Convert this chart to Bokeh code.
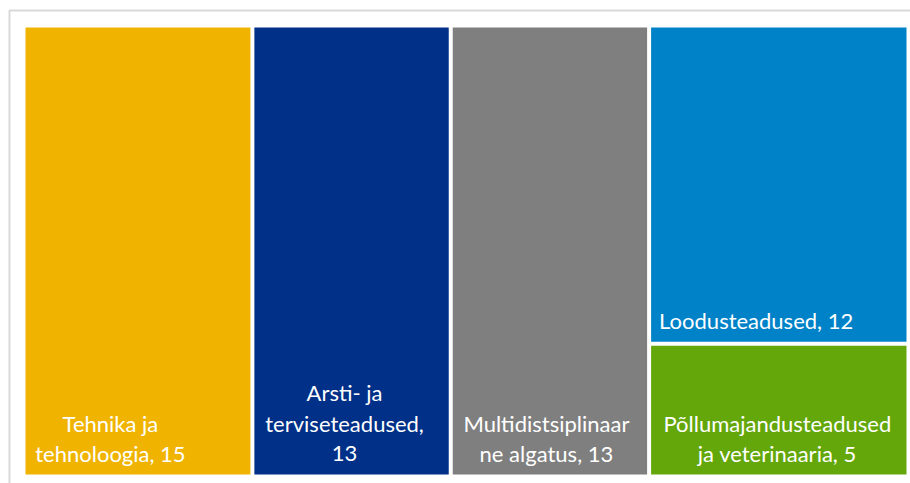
from bokeh.plotting import figure
from bokeh.models import Range1d
from bokeh.core.properties import value
from bokeh.embed import file_html
from bokeh.resources import INLINE

# ---- data ----
categories = ["Tehnika ja tehnoloogia", "Arsti- ja terviseteadused",
              "Multidistsiplinaarne algatus", "Loodusteadused",
              "Põllumajandusteadused ja veterinaaria"]
values = [15, 13, 13, 12, 5]
label_lines = [["Tehnika ja", "tehnoloogia, 15"],
               ["Arsti- ja", "terviseteadused,", "13"],
               ["Multidistsiplinaar", "ne algatus, 13"],
               ["Loodusteadused, 12"],
               ["Põllumajandusteadused", "ja veterinaaria, 5"]]
colors = ["#F0B400", "#003087", "#7F7F7F", "#0082C8", "#63A70A"]

# ---- styles / layout ----
W, H = 910, 483
L, R, T, B = 23, 908, 25, 476   # treemap area (px, y downward)
GAP = 2
label_dx = [-27.5, -7, -3.5, None, -1.5]   # offset of centred labels from rect centre
label_left = [None, None, None, 8, None]   # left-aligned offset
LINE_H = 30.5
BOTTOM_OFF = 21

total = sum(values)
cols = [values[0], values[1], values[2], values[3] + values[4]]
rects = []
x = L
for i, c in enumerate(cols):
    w = (R - L) * c / total
    if i < 3:
        rects.append((x, T, x + w, B))
    else:
        hsplit = T + (B - T) * values[3] / c
        rects.append((x, T, x + w, hsplit))
        rects.append((x, hsplit, x + w, B))
    x += w

p = figure(width=W, height=H, output_backend="svg", toolbar_location=None,
           x_range=Range1d(0, W), y_range=Range1d(H, 0), min_border=0)
p.axis.visible = False
p.grid.visible = False
p.outline_line_color = None
p.background_fill_color = "white"

# outer border (light gray)
p.quad(left=[9], right=[W + 50], top=[10], bottom=[H + 50],
       fill_color=None, line_color="#D9D9D9", line_width=2)

p.quad(left=[r[0] + GAP for r in rects], right=[r[2] - GAP for r in rects],
       top=[r[1] + GAP for r in rects], bottom=[r[3] - GAP for r in rects],
       fill_color=colors, line_color=None)

for i, r in enumerate(rects):
    lines = label_lines[i]
    n = len(lines)
    bottom = r[3] - GAP
    ys = [bottom - BOTTOM_OFF - (n - 1 - k) * LINE_H for k in range(n)]
    if label_left[i] is not None:
        xs = [r[0] + GAP + label_left[i]] * n
        align = "left"
    else:
        xs = [(r[0] + r[2]) / 2 + label_dx[i]] * n
        align = "center"
    p.text(x=xs, y=ys, text=lines, text_color="white",
           text_font=value("Lato"), text_font_size="22px",
           text_align=align, text_baseline="middle")

open("out.html", "w").write(file_html(p, INLINE))
